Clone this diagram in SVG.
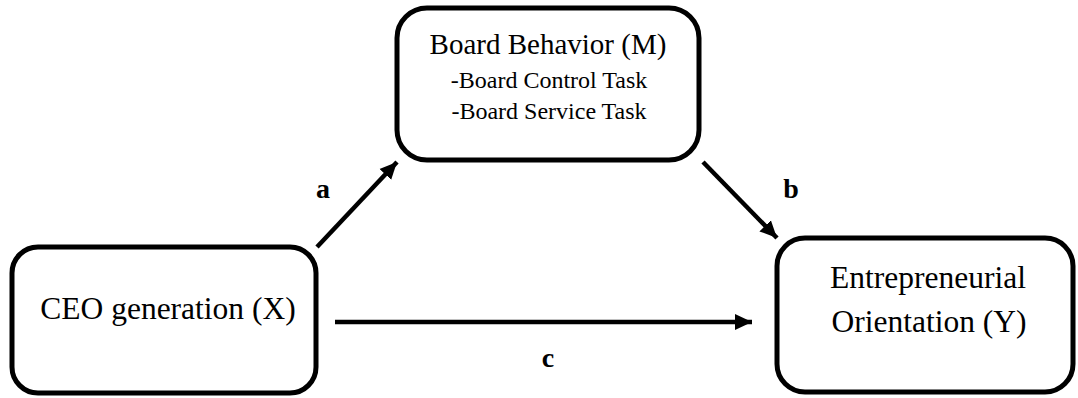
<svg xmlns="http://www.w3.org/2000/svg" width="1078" height="398" viewBox="0 0 1078 398">
<style>
.box{fill:#fff;stroke:#000;stroke-width:5}
.t{font-family:"Liberation Serif","Times New Roman",serif;fill:#000;text-anchor:middle}
.lbl{font-family:"Liberation Serif","Times New Roman",serif;font-weight:bold;font-size:28px;fill:#000;text-anchor:middle}
.conn{stroke:#000;stroke-width:4.5;fill:none}
</style>
<defs>
<marker id="ah" markerUnits="userSpaceOnUse" markerWidth="20" markerHeight="18" refX="17" refY="9" orient="auto" viewBox="0 0 20 18">
<path d="M0,1 L17,9 L0,17 Z" fill="#000"/>
</marker>
</defs>
<g id="node-m">
<rect class="box" x="397" y="8" width="302" height="152" rx="30" ry="30"/>
<text class="t" x="548" y="54" font-size="29">Board Behavior (M)</text>
<text class="t" x="549" y="88" font-size="24">-Board Control Task</text>
<text class="t" x="549" y="119" font-size="24">-Board Service Task</text>
</g>
<g id="node-x">
<rect class="box" x="12" y="247" width="304" height="146" rx="26" ry="26"/>
<text class="t" x="168" y="319" font-size="31.5">CEO generation (X)</text>
</g>
<g id="node-y">
<rect class="box" x="777" y="238" width="296" height="154" rx="28" ry="28"/>
<text class="t" x="928" y="288" font-size="31.5">Entrepreneurial</text>
<text class="t" x="929" y="332" font-size="31.5">Orientation (Y)</text>
</g>
<g id="connectors">
<line class="conn" x1="317" y1="247" x2="397" y2="162" marker-end="url(#ah)"/>
<line class="conn" x1="703" y1="162" x2="777" y2="238" marker-end="url(#ah)"/>
<line class="conn" x1="335" y1="322" x2="752" y2="322" marker-end="url(#ah)"/>
<text class="lbl" x="323" y="198">a</text>
<text class="lbl" x="791" y="198">b</text>
<text class="lbl" x="548" y="367">c</text>
</g>
</svg>
